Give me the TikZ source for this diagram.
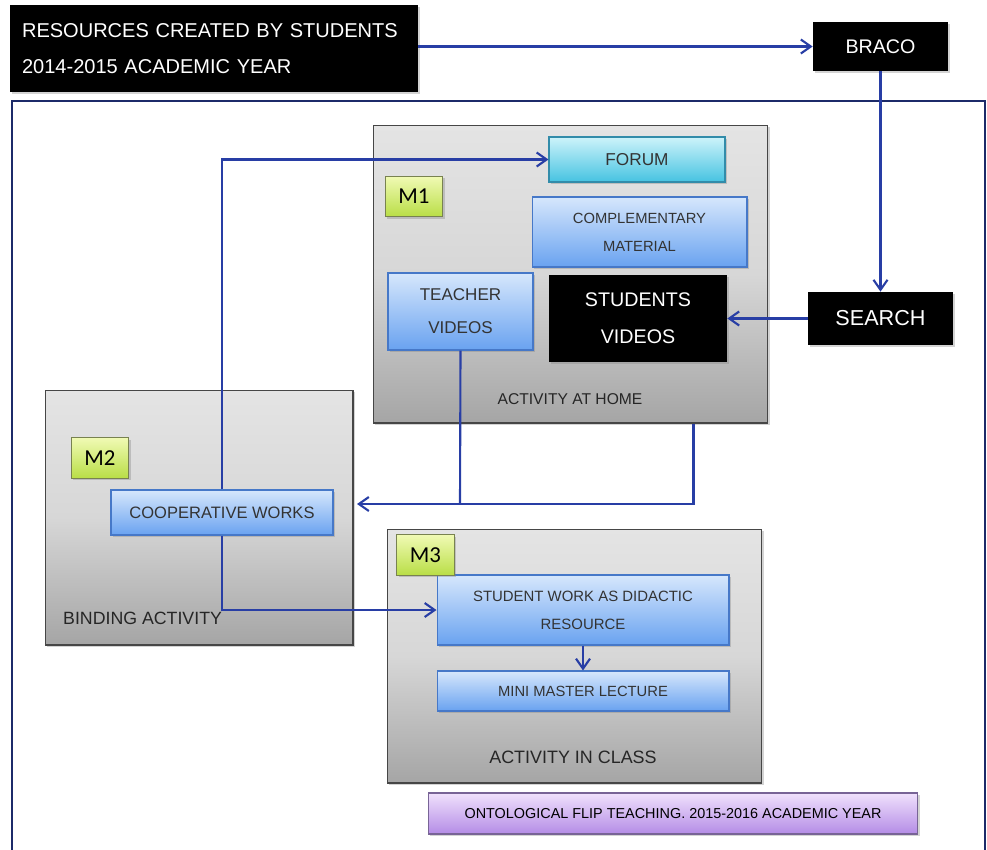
\documentclass[tikz,border=0pt]{standalone}
\usepackage{fontspec}
\setmainfont{Liberation Sans}
\newfontfamily\tagfont{Carlito}
\usetikzlibrary{arrows.meta,positioning,shadows}

\definecolor{flowblue}{RGB}{40,62,165}
\definecolor{framenavy}{RGB}{28,42,105}
\definecolor{bluetop}{RGB}{214,231,252}
\definecolor{bluebot}{RGB}{105,162,240}
\definecolor{blueedge}{RGB}{70,120,200}
\definecolor{cyantop}{RGB}{205,243,250}
\definecolor{cyanbot}{RGB}{70,195,225}
\definecolor{cyanedge}{RGB}{50,140,170}
\definecolor{tagtop}{RGB}{240,250,180}
\definecolor{tagbot}{RGB}{185,222,70}
\definecolor{tagedge}{RGB}{120,130,80}
\definecolor{purptop}{RGB}{240,225,252}
\definecolor{purpbot}{RGB}{180,140,230}
\definecolor{purpedge}{RGB}{120,100,150}
\definecolor{paneltop}{RGB}{228,228,228}
\definecolor{panelmid}{RGB}{215,215,215}
\definecolor{panelbot}{RGB}{165,165,165}

\begin{document}
\begin{tikzpicture}[x=0.02cm, y=-0.02cm,
    shade/.style={drop shadow={shadow xshift=1.2pt, shadow yshift=-1.2pt, opacity=0.35}},
    panel/.style={shade, draw=gray!55!black, line width=0.6pt, top color=paneltop, bottom color=panelbot, middle color=panelmid, inner sep=0pt},
    bluebox/.style={shade, draw=blueedge, line width=0.6pt, top color=bluetop, bottom color=bluebot, text=black!80, align=center, inner sep=0pt},
    forumbox/.style={shade, draw=cyanedge, line width=0.6pt, top color=cyantop, bottom color=cyanbot, text=black!80, inner sep=0pt},
    blackbox/.style={shade, fill=black, text=white, align=center, inner sep=0pt},
    tag/.style={shade, draw=tagedge, line width=0.5pt, top color=tagtop, bottom color=tagbot, inner sep=0pt, minimum width=1.15cm, minimum height=0.81cm, font=\tagfont\fontsize{13}{15}\selectfont},
    flow/.style={draw=flowblue, line width=1.2pt, -{Straight Barb[length=2mm, width=2.8mm]}},
    link/.style={draw=flowblue, line width=1.2pt}]

    \useasboundingbox (0,0) rectangle (987,849);

    % outer frame
    \draw[framenavy, line width=1.2pt] (12,101) rectangle (985,870);

    % resources of last year
    \node[blackbox, minimum width=8.16cm, minimum height=1.74cm, text width=7.68cm, align=left,
          font=\fontsize{11.4}{20.2}\selectfont] (title) at (214,48.5)
          {RESOURCES CREATED BY STUDENTS\\2014-2015 ACADEMIC YEAR};
    \node[blackbox, minimum width=2.7cm, minimum height=0.98cm, font=\fontsize{11.2}{13}\selectfont] (braco) at (880.5,46.5) {BRACO};
    \node[blackbox, minimum width=2.9cm, minimum height=1.06cm, font=\fontsize{12.3}{14}\selectfont] (search) at (880.5,318.5) {SEARCH};

    % M1: activity at home
    \node[panel, minimum width=7.9cm, minimum height=5.96cm] (m1) at (570.5,274) {};
    \node[forumbox, minimum width=3.52cm, minimum height=0.9cm, font=\fontsize{9.8}{11}\selectfont] (forum) at (637,159.5) {FORUM};
    \node[tag] (m1tag) at (414,196.5) {M1};
    \node[bluebox, minimum width=4.3cm, minimum height=1.4cm, font=\fontsize{8.4}{15.9}\selectfont] (compl) at (639.5,232) {COMPLEMENTARY\\MATERIAL};
    \node[bluebox, minimum width=2.9cm, minimum height=1.54cm, font=\fontsize{9.7}{18.8}\selectfont] (tv) at (460.5,311.5) {TEACHER\\VIDEOS};
    \node[blackbox, minimum width=3.56cm, minimum height=1.74cm, font=\fontsize{11.2}{21}\selectfont] (sv) at (638,318.5) {STUDENTS\\VIDEOS};
    \node[font=\fontsize{8.9}{10}\selectfont, text=black!85] (hometxt) at (570,399) {ACTIVITY AT HOME};

    % M2: binding activity
    \node[panel, minimum width=6.16cm, minimum height=5.1cm] (m2) at (199,517.5) {};
    \node[tag] (m2tag) at (100,458) {M2};
    \node[bluebox, minimum width=4.44cm, minimum height=0.9cm, font=\fontsize{9.4}{11}\selectfont] (cw) at (222,512.5) {COOPERATIVE WORKS};
    \node[anchor=west, font=\fontsize{10.1}{12}\selectfont, text=black!85] (bindtxt) at (57,618) {BINDING ACTIVITY};

    % M3: activity in class
    \node[panel, minimum width=7.5cm, minimum height=5.08cm] (m3) at (574.5,656) {};
    \node[bluebox, minimum width=5.84cm, minimum height=1.4cm, font=\fontsize{8.5}{15.9}\selectfont] (sw) at (583,610) {STUDENT WORK AS DIDACTIC\\RESOURCE};
    \node[tag] (m3tag) at (425.5,555) {M3};
    \node[bluebox, minimum width=5.84cm, minimum height=0.8cm, font=\fontsize{8.4}{10}\selectfont] (mml) at (583,691) {MINI MASTER LECTURE};
    \node[font=\fontsize{10.2}{12}\selectfont, text=black!85] (classtxt) at (573,757) {ACTIVITY IN CLASS};

    % this year
    \node[shade, draw=purpedge, line width=0.6pt, top color=purptop, bottom color=purpbot, inner sep=0pt,
          minimum width=9.8cm, minimum height=0.82cm, font=\fontsize{8.2}{10}\selectfont] (onto) at (673,813.5)
          {ONTOLOGICAL FLIP TEACHING. 2015-2016 ACADEMIC YEAR};

    % connectors
    \coordinate (mid) at (460,504);
    \draw[flow] (title.east |- braco.west) -- (braco.west);
    \draw[flow] (braco.south) -- (search.north);
    \draw[flow] (search.west) -- (sv.east);
    \draw[flow] (cw.north) |- (forum.west);
    \draw[flow] (cw.south) |- (sw.west);
    \draw[link] (tv.south) -- (mid);
    \draw[flow, shorten >=2pt] ([xshift=-1.5cm]m1.south east) |- (mid) -- (mid -| m2.east);
    \draw[flow] (sw.south) -- (mml.north);
\end{tikzpicture}
\end{document}
